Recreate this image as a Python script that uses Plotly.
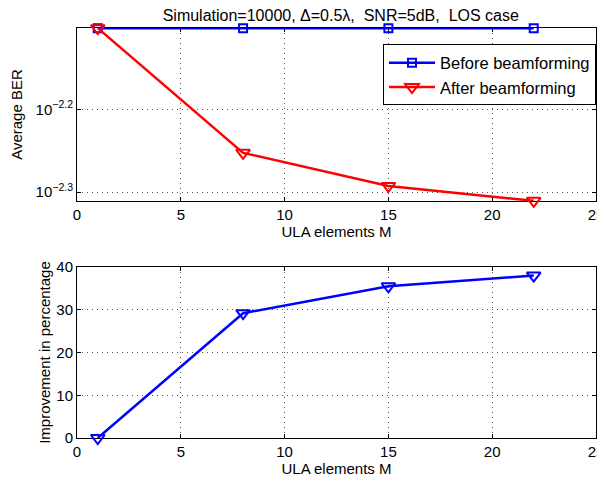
import numpy as np
import plotly.graph_objects as go
from plotly.subplots import make_subplots

M = [1, 8, 15, 22]
ber_before = [0.00791, 0.00791, 0.00791, 0.00791]
ber_after = [0.00791, 0.005591, 0.005100, 0.004892]
improvement = [0, 29.2, 35.5, 38.0]

x_ticks = [0, 5, 10, 15, 20, 25]
ber_ticks = [10 ** -2.3, 10 ** -2.2]
ber_tick_text = ["10<sup>\u22122.3</sup>", "10<sup>\u22122.2</sup>"]
imp_ticks = [0, 10, 20, 30, 40]

FONT = "Liberation Sans, Arial, sans-serif"

# page body has an 8px margin -> keep figure small enough to avoid scrollbars
fig = make_subplots(rows=2, cols=1)
fig.update_layout(
    xaxis=dict(domain=[0, 1]),
    xaxis2=dict(domain=[0, 1]),
    yaxis=dict(domain=[0.578, 1.0]),
    yaxis2=dict(domain=[0, 0.417]),
)

fig.add_trace(go.Scatter(
    x=M, y=ber_before, mode="lines+markers", name="Before beamforming",
    line=dict(color="#0000ff", width=2.5),
    marker=dict(symbol="square-open", size=8, color="#0000ff", line=dict(width=2)),
    cliponaxis=False), row=1, col=1)
fig.add_trace(go.Scatter(
    x=M, y=ber_after, mode="lines+markers", name="After beamforming",
    line=dict(color="#ff0000", width=2.5),
    marker=dict(symbol="triangle-down-open", size=12, color="#ff0000", line=dict(width=2)),
    cliponaxis=False), row=1, col=1)
fig.add_trace(go.Scatter(
    x=M, y=improvement, mode="lines+markers", showlegend=False,
    line=dict(color="#0000ff", width=2.5),
    marker=dict(symbol="triangle-down-open", size=12, color="#0000ff", line=dict(width=2)),
    cliponaxis=False), row=2, col=1)

axis_common = dict(
    showline=True, linecolor="black", linewidth=1, mirror="ticks",
    ticks="inside", ticklen=4, tickcolor="black",
    showgrid=True, gridcolor="#555555", gridwidth=1, griddash="1px,4px",
    zeroline=False, tickfont=dict(size=15, color="black", family=FONT),
    layer="below traces", automargin=False, ticklabeloverflow="allow",
)

for r in (1, 2):
    fig.update_xaxes(range=[0, 25], tickvals=x_ticks, row=r, col=1,
                     title=dict(text="ULA elements M", font=dict(size=15, color="black", family=FONT), standoff=2),
                     **axis_common)

lo = np.log10(min(ber_after)) - 0.0002
hi = np.log10(max(ber_before)) + 0.0002
fig.update_yaxes(type="log", range=[lo, hi], tickvals=ber_ticks, ticktext=ber_tick_text,
                 title=dict(text="Average BER", font=dict(size=15, color="black", family=FONT), standoff=10),
                 row=1, col=1, **axis_common)
fig.update_yaxes(range=[0, 40], tickvals=imp_ticks,
                 title=dict(text="Improvement in percentage", font=dict(size=15, color="black", family=FONT), standoff=2),
                 row=2, col=1, **axis_common)

fig.update_layout(
    width=589, height=469,
    margin=dict(l=69, r=1, t=20, b=39),
    paper_bgcolor="white", plot_bgcolor="white",
    font=dict(family=FONT, size=15, color="black"),
    title=dict(text="Simulation=10000, \u0394=0.5\u03bb,\u00a0 SNR=5dB,\u00a0 LOS case",
               x=0.565, xanchor="center", y=0.996, yanchor="top",
               font=dict(size=16, color="black", family=FONT)),
    legend=dict(x=1.0, xanchor="right", y=0.96, yanchor="top",
                bordercolor="black", borderwidth=1, bgcolor="white",
                font=dict(size=16.5, color="black", family=FONT),
                tracegroupgap=0, itemwidth=46),
    showlegend=True,
)

fig.write_html("out.html")
